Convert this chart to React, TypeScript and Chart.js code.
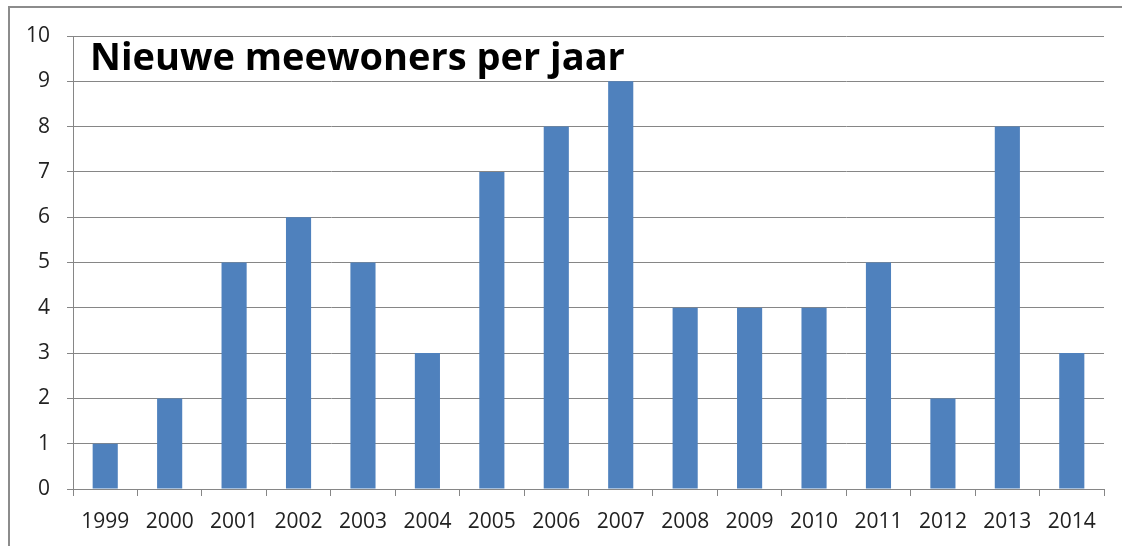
import React, { useEffect, useRef } from "react";
import { Chart, registerables } from "chart.js";

Chart.register(...registerables);

const years = ["1999","2000","2001","2002","2003","2004","2005","2006","2007","2008","2009","2010","2011","2012","2013","2014"];
const newResidents = [1, 2, 5, 6, 5, 3, 7, 8, 9, 4, 4, 4, 5, 2, 8, 3];
const chartTitle = "Nieuwe meewoners per jaar";
const yMin = 0;
const yMax = 10;
const yStep = 1;

const FONT = "'Open Sans', 'Noto Sans', sans-serif";

const titlePlugin = {
  id: "insideTitle",
  afterDatasetsDraw(chart: any) {
    const ctx = chart.ctx;
    ctx.save();
    ctx.font = `bold 38px ${FONT}`;
    ctx.fillStyle = "#000";
    ctx.textAlign = "left";
    ctx.textBaseline = "alphabetic";
    ctx.fillText(chartTitle, chart.chartArea.left + 17, 70);
    ctx.restore();
  },
};

export default function App() {
  const ref = useRef<HTMLCanvasElement | null>(null);
  useEffect(() => {
    if (!ref.current) return;
    const chart = new Chart(ref.current, {
      type: "bar",
      data: {
        labels: years,
        datasets: [
          {
            data: newResidents,
            backgroundColor: "#4F81BD",
            borderWidth: 0,
            categoryPercentage: 1,
            barPercentage: 0.39,
          },
        ],
      },
      options: {
        animation: false,
        responsive: false,
        maintainAspectRatio: false,
        layout: { padding: { left: 0, right: 18, top: 36, bottom: 0 } },
        plugins: { legend: { display: false }, title: { display: false }, tooltip: { enabled: false } },
        scales: {
          x: {
            offset: true,
            grid: { display: true, drawOnChartArea: false, offset: true, tickLength: 7, color: "#868686", lineWidth: 1 },
            border: { display: true, color: "#868686", width: 1 },
            ticks: { color: "#222", font: { family: FONT, size: 21 }, padding: 13, maxRotation: 0, autoSkip: false },
            afterFit: (s: any) => { s.height = 57; },
          },
          y: {
            min: yMin,
            max: yMax,
            grid: { color: "#868686", lineWidth: 1, tickLength: 6 },
            border: { display: true, color: "#868686", width: 1 },
            ticks: { stepSize: yStep, color: "#222", font: { family: FONT, size: 21 }, padding: 17 },
            afterFit: (s: any) => { s.width = 73; },
          },
        },
      },
      plugins: [titlePlugin],
    });
    return () => chart.destroy();
  }, []);

  return (
    <div style={{ position: "fixed", left: 0, top: 0, width: 1122, height: 546, background: "#fff" }}>
      <canvas ref={ref} width={1122} height={546} style={{ position: "absolute", left: 0, top: 0, width: 1122, height: 546 }} />
      <div style={{ position: "absolute", left: 8, top: 6, right: 0, bottom: 0, borderTop: "2px solid #8c8c8c", borderLeft: "2px solid #8c8c8c", pointerEvents: "none" }} />
    </div>
  );
}
